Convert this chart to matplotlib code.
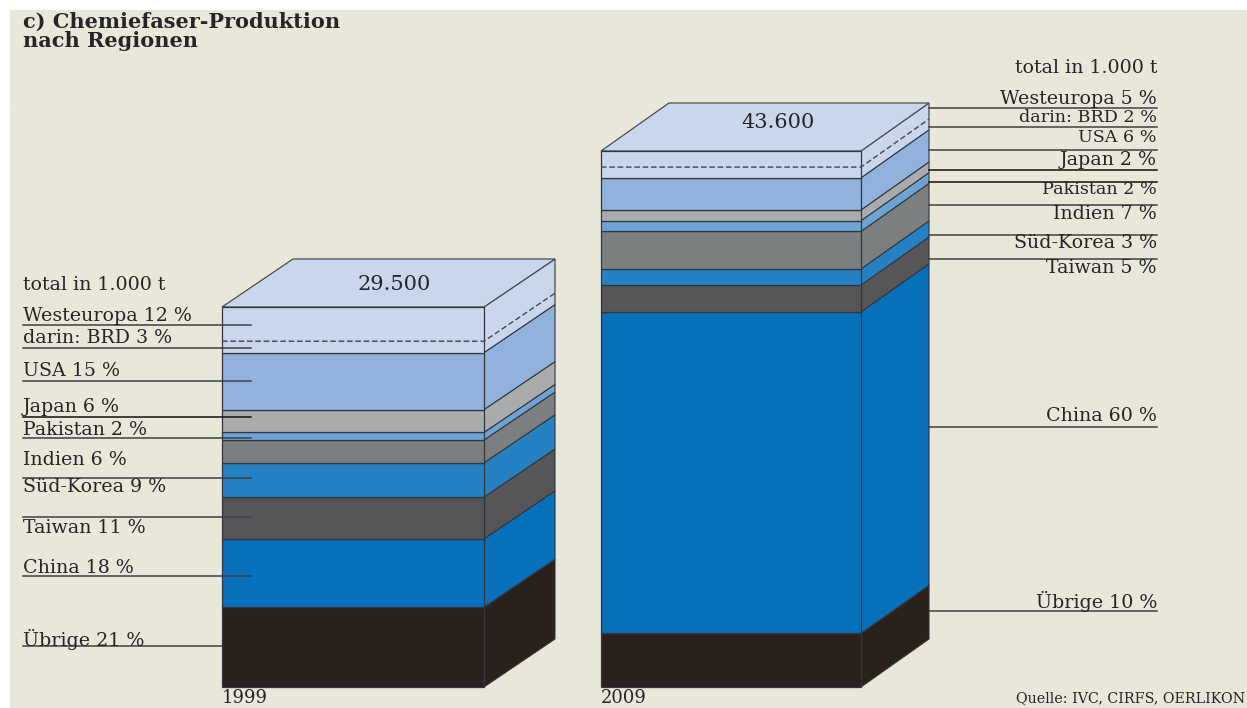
import matplotlib
matplotlib.use('Agg')
import matplotlib.pyplot as plt
from matplotlib.patches import Polygon, Rectangle

W, H = 1247, 708

# Anteile von unten nach oben
regionen = ['Übrige', 'China', 'Taiwan', 'Süd-Korea', 'Indien', 'Pakistan', 'Japan', 'USA', 'Westeuropa']
anteile_1999 = [21, 18, 11, 9, 6, 2, 6, 15, 12]
anteile_2009 = [10, 60, 5, 3, 7, 2, 2, 6, 5]
brd_1999 = 3
brd_2009 = 2
jahre = ['1999', '2009']
totale = ['29.500', '43.600']

farben = ['#2a211c', '#0670bb', '#565658', '#2581c4', '#7c7f80', '#6ea3d6', '#a9abac', '#90b2dd', '#c9d6ec']

bg = '#e9e6da'
linie = '#3c4048'
schrift = '#26262a'
serif = 'DejaVu Serif'

fig = plt.figure(figsize=(W / 100, H / 100), dpi=100, facecolor='white')

# Hintergrund ganz unten
bg_ax = fig.add_axes([0, 0, 1, 1], zorder=-1)
bg_ax.set_xlim(0, W)
bg_ax.set_ylim(H, 0)
bg_ax.axis('off')
bg_ax.add_patch(Rectangle((10, 10), W - 10, H - 10, fc=bg, ec='none'))

# blasses Zickzack im Hintergrund
for xs, ys in [([10, 38, 58, 80, 100, 145, 190, 255, 310, 350, 400], [110, 70, 105, 60, 85, 60, 70, 112, 38, 85, 20]),
               ([930, 985, 1040, 1100, 1160, 1240], [430, 530, 420, 490, 410, 500]),
               ([555, 600], [300, 370]), ([935, 965, 1000, 1050], [240, 320, 270, 330])]:
    bg_ax.plot(xs, ys, color='#ebe8dd', lw=1.0)


def block(x0, x1, top, bottom, dx, dy, anteile, brd):
    ax = fig.add_axes([x0 / W, 1 - bottom / H, (x1 - x0) / W, (bottom - top) / H])
    ax.set_xlim(0, 1)
    ax.set_ylim(0, 100)
    ax.axis('off')
    ox = dx / (x1 - x0)
    oy = dy * 100 / (bottom - top)
    cum = 0
    for i, a in enumerate(anteile):
        ax.bar(0.5, a, width=1, bottom=cum, color=farben[i], edgecolor='#33363c', linewidth=0.9, clip_on=False, zorder=2)
        ax.add_patch(Polygon([(1, cum), (1 + ox, cum + oy), (1 + ox, cum + a + oy), (1, cum + a)],
                             fc=farben[i], ec='#33363c', lw=0.8, clip_on=False, zorder=1))
        cum += a
    # Deckel
    ax.add_patch(Polygon([(0, 100), (ox, 100 + oy), (1 + ox, 100 + oy), (1, 100)],
                         fc=farben[-1], ec='#4a4d52', lw=0.9, clip_on=False, zorder=1))
    # gestrichelte BRD-Linie: BRD liegt unten im Westeuropa-Abschnitt
    y = 100 - anteile[-1] + brd
    ax.plot([0, 1, 1 + ox], [y, y, y + oy], color='#44474c', lw=1.0, ls=(0, (4, 2)), clip_on=False, zorder=3)
    return ax


ax1 = block(222, 484, 307, 687, 71, 48, anteile_1999, brd_1999)
ax2 = block(601, 861, 151, 687, 68, 48, anteile_2009, brd_2009)

# ganze Flaeche in Pixeln fuer Texte und Hinweislinien
base = fig.add_axes([0, 0, 1, 1], zorder=5)
base.set_xlim(0, W)
base.set_ylim(H, 0)
base.axis('off')
base.patch.set_visible(False)

t_kw = dict(family=serif, color=schrift, va='center', fontsize=13.7)

base.text(23, 22, 'c) Chemiefaser-Produktion', family=serif, fontsize=15, fontweight='bold', color=schrift, va='center')
base.text(23, 41, 'nach Regionen', family=serif, fontsize=15, fontweight='bold', color=schrift, va='center')

# linke Beschriftung 1999
links_text = ['total in 1.000 t', 'Westeuropa 12 %', 'darin: BRD 3 %', 'USA 15 %', 'Japan 6 %', 'Pakistan 2 %',
              'Indien 6 %', 'Süd-Korea 9 %', 'Taiwan 11 %', 'China 18 %', 'Übrige 21 %']
links_y = [285, 316, 338, 371, 407, 430, 460, 487, 528, 568, 639]
links_linie = [None, 325, 348, 381, 417, 438, 478, 517, None, 576, 646]
for s, y, ly in zip(links_text, links_y, links_linie):
    base.text(23, y, s, **t_kw)
    if ly is not None:
        dunkel = s.startswith('Japan')
        base.plot([23, 251 if not s.startswith('Übrige') else 222], [ly, ly],
                  color='#111111' if dunkel else linie, lw=1.1)

# rechte Beschriftung 2009
rechts_text = ['total in 1.000 t', 'Westeuropa 5 %', 'darin: BRD 2 %', 'USA 6 %', 'Japan 2 %', 'Pakistan 2 %',
               'Indien 7 %', 'Süd-Korea 3 %', 'Taiwan 5 %', 'China 60 %', 'Übrige 10 %']
rechts_y = [68, 99, 118, 138, 160, 189, 214, 243, 268, 416, 601]
rechts_linie = [None, 108, 127, 150, 170, 182, 205, 235, 259, 427, 611]
for s, y, ly in zip(rechts_text, rechts_y, rechts_linie):
    kw = dict(t_kw)
    kw['ha'] = 'right'
    if s.startswith('darin') or s.startswith('Pakistan') or s.startswith('USA'):
        kw['fontsize'] = 12.6
    base.text(1157, y, s, **kw)
    if ly is not None:
        dunkel = s.startswith('Japan') or s.startswith('Pakistan')
        base.plot([929, 1157], [ly, ly], color='#111111' if dunkel else linie, lw=1.1)

for tx, y, t in zip([394, 778], [285, 123], totale):
    base.text(tx, y, t, family=serif, fontsize=15, color=schrift, ha='center', va='center')

for x, j in zip([222, 601], jahre):
    base.text(x, 707, j, family=serif, fontsize=13, color=schrift, va='bottom')

base.text(1245, 698, 'Quelle: IVC, CIRFS, OERLIKON', family=serif, fontsize=10.3, color=schrift, ha='right', va='center')

fig.savefig('out.png', dpi=100, facecolor='white')
